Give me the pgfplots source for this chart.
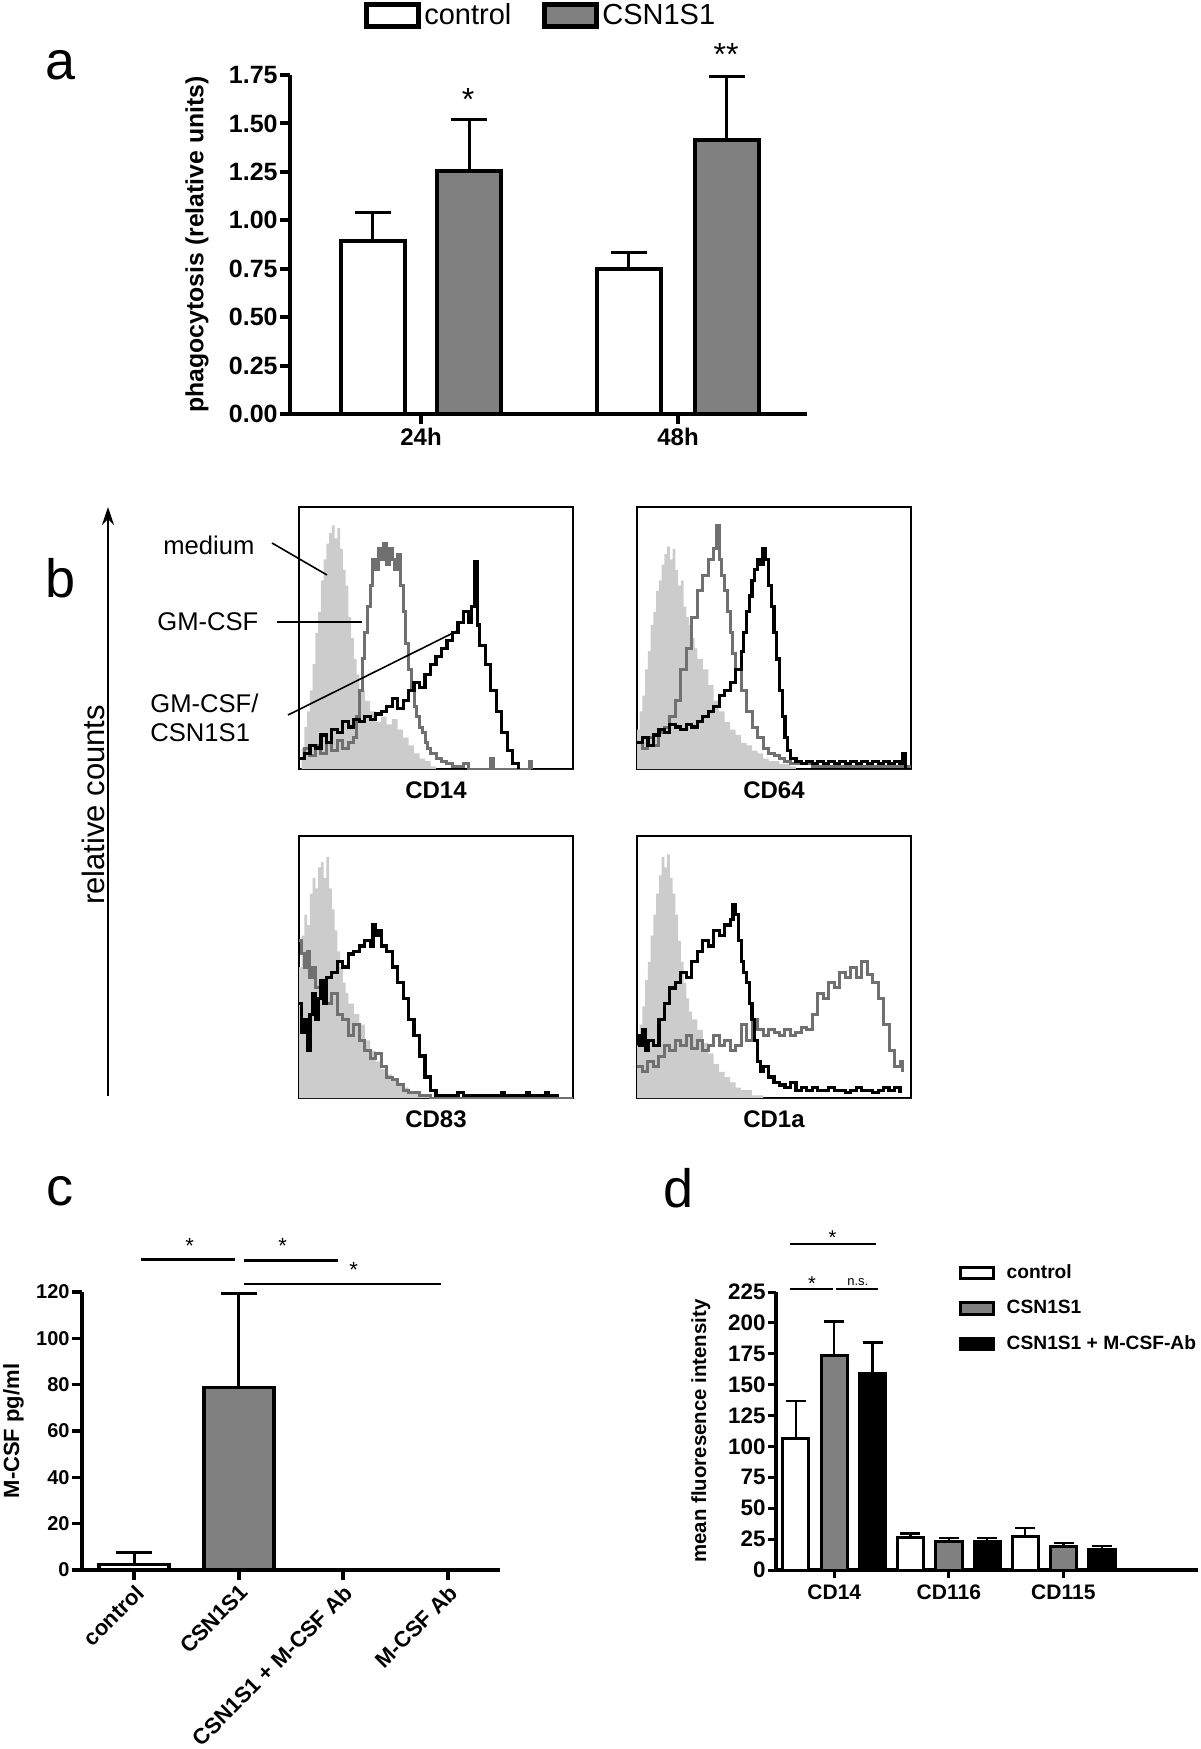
\documentclass[border=0pt]{standalone}
\usepackage{pgfplots}
\pgfplotsset{compat=1.18}
\usetikzlibrary{arrows.meta}
\usepackage{fontspec}
\setmainfont{Liberation Sans}
\definecolor{bargray}{HTML}{808080}
\definecolor{medgray}{HTML}{CCCCCC}
\definecolor{histgray}{HTML}{707070}
\newcommand{\fs}[1]{\fontsize{#1}{#1}\selectfont}
\pgfplotsset{
  histo/.style={scale only axis, width=137pt, height=131pt, anchor=south west,
    xmin=0, xmax=100, ymin=0, ymax=100, xtick=\empty, ytick=\empty,
    axis line style={line width=1pt},
    every axis x label/.style={at={(axis description cs:0.5,0)}, anchor=north, inner sep=0pt, yshift=-6pt, font=\bfseries\fs{12}}},
  medium/.style={fill=medgray, draw=none, const plot},
  gmcsf/.style={histgray, line width=1.5pt, const plot, mark=none},
  both/.style={black, line width=1.6pt, const plot, mark=none},
  errs/.style 2 args={error bars/.cd, y dir=plus, y explicit,
    error bar style={line width=#1, black},
    error mark options={line width=#1, black, mark size=#2, rotate=90}},
}
\begin{document}
\begin{tikzpicture}
\path[use as bounding box] (0,0) rectangle (600pt,-874.5pt);

% ---------------- panel a ----------------
\begin{axis}[
  at={(145pt,-207pt)}, anchor=south west,
  scale only axis, width=258.5pt, height=169.5pt,
  xmin=0, xmax=517, ymin=0, ymax=1.75, clip=false,
  axis x line*=bottom, axis y line*=left,
  axis line style={line width=2.2pt,-},
  ytick={0,0.25,0.5,0.75,1,1.25,1.5,1.75},
  xtick={131,388}, xticklabels={24h,48h},
  tick align=outside, major tick length=5pt,
  tick style={line width=2pt, black},
  /pgf/number format/assume math mode=true,
  yticklabel style={font=\bfseries\fs{12.5}, inner sep=1pt,
    /pgf/number format/.cd, fixed, fixed zerofill, precision=2},
  xticklabel style={font=\bfseries\fs{12}, inner sep=2pt},
  ylabel={phagocytosis (relative units)},
  every axis y label/.style={at={(axis description cs:-0.18,0.5)}, rotate=90, anchor=center, font=\bfseries\fs{12.4}},
  legend style={at={(0.486,1.175)}, anchor=center, draw=none, fill=none,
    legend columns=2, font=\fs{14.5}, inner sep=0pt,
    /tikz/every even column/.append style={column sep=14pt},
    nodes={inner sep=1.5pt}},
  legend image code/.code={\draw[#1, line width=2.5pt] (0pt,-5.5pt) rectangle (26pt,5.5pt);},
]
\addplot[ybar, bar shift=0pt, bar width=64, fill=white, draw=black, line width=2pt, errs={1.5pt}{9pt}]
  coordinates {(82.7,0.893) +- (0,0.147) (338.6,0.748) +- (0,0.087)};
\addlegendentry{control}
\addplot[ybar, bar shift=0pt, bar width=64, fill=bargray, draw=black, line width=2pt, errs={1.5pt}{9pt}]
  coordinates {(179.4,1.252) +- (0,0.27) (436.9,1.416) +- (0,0.325)};
\addlegendentry{CSN1S1}
\node[font=\fs{16}] at (axis cs:178,1.625) {*};
\node[font=\fs{16}] at (axis cs:436,1.855) {**};
\end{axis}

% ---------------- panel b ----------------
\begin{axis}[histo, at={(149.5pt,-384.5pt)}, xlabel={CD14}]
\addplot[medium] coordinates {(0,0)(1,8)(2,16)(3,22)(4,30)(5,40)(6,52)(7,60)(8,72)(9,80)(10,86)(11,90)(12,93)(13,88)(14,92)(15,84)(16,76)(17,70)(18,58)(19,50)(20,42)(21,36)(22,30)(24,26)(26,22)(28,18)(30,20)(32,17)(34,19)(36,15)(38,12)(40,9)(42,6)(44,4)(46,3)(48,1)(50,0)(100,0)} \closedcycle;
\addplot[gmcsf] coordinates {(0,4)(2,8)(4,5)(6,9)(8,6)(10,10)(12,7)(14,11)(16,8)(18,10)(20,12)(21,20)(22,30)(23,42)(24,52)(25,62)(26,70)(27,80)(28,76)(29,84)(30,80)(31,86)(32,78)(33,84)(34,80)(35,76)(36,82)(37,70)(38,60)(39,48)(40,38)(41,30)(42,24)(43,20)(44,16)(45,14)(46,10)(47,8)(48,6)(50,4)(52,3)(54,2)(56,1)(60,2)(62,0)(68,0)(70,4)(71,0)(83,0)(84,3)(85,0)};
\addplot[both] coordinates {(0,4)(2,6)(4,9)(6,8)(8,13)(10,10)(12,15)(14,14)(16,18)(18,16)(20,19)(22,18)(24,20)(26,19)(28,21)(30,22)(32,24)(34,27)(36,23)(38,26)(40,30)(42,33)(44,31)(46,36)(48,40)(50,43)(52,46)(54,49)(56,52)(58,56)(60,60)(62,56)(63,62)(64,79)(65,55)(66,47)(68,40)(70,30)(72,22)(74,14)(76,7)(78,2)(80,0)};
\end{axis}

\begin{axis}[histo, at={(318.5pt,-384.5pt)}, xlabel={CD64}]
\addplot[medium] coordinates {(0,15)(1,22)(2,28)(3,38)(4,45)(5,55)(6,60)(7,68)(8,72)(9,78)(10,82)(11,85)(12,80)(13,84)(14,76)(15,70)(16,72)(17,62)(18,58)(19,55)(20,50)(21,46)(22,42)(24,38)(26,32)(28,26)(30,22)(32,18)(34,15)(36,13)(38,10)(40,9)(42,7)(44,6)(46,4)(48,3)(52,2)(56,1)(58,0)(100,0)} \closedcycle;
\addplot[gmcsf] coordinates {(0,10)(2,8)(4,12)(6,9)(8,14)(10,16)(12,20)(14,26)(16,38)(18,46)(20,58)(22,68)(24,74)(26,80)(28,84)(29,93)(30,80)(31,74)(32,68)(33,60)(34,52)(35,44)(36,38)(38,30)(40,22)(42,16)(44,12)(46,8)(48,6)(50,5)(52,4)(54,3)(56,2)(60,2)(64,1)(70,1)(80,1)(90,1)(100,1)};
\addplot[both] coordinates {(0,10)(2,12)(4,9)(6,13)(8,15)(10,14)(12,17)(14,16)(16,15)(18,17)(20,16)(22,18)(24,20)(26,22)(28,24)(30,28)(32,30)(34,33)(36,38)(38,45)(39,52)(40,60)(41,66)(42,72)(43,76)(44,80)(45,78)(46,84)(47,80)(48,70)(49,62)(50,52)(51,42)(52,30)(53,20)(54,12)(55,7)(56,4)(58,3)(60,2)(62,3)(64,2)(66,3)(68,2)(70,3)(72,2)(74,3)(76,2)(78,3)(80,2)(82,3)(84,2)(86,3)(88,2)(90,3)(92,2)(94,3)(96,2)(97,6)(98,0)};
\end{axis}

\begin{axis}[histo, at={(149.5pt,-549pt)}, xlabel={CD83}]
\addplot[medium] coordinates {(0,50)(1,62)(2,70)(3,66)(4,78)(5,84)(6,80)(7,88)(8,90)(9,84)(10,92)(11,80)(12,72)(13,64)(14,56)(15,50)(16,44)(17,40)(18,36)(20,32)(22,28)(24,22)(26,18)(28,14)(30,11)(32,9)(34,7)(36,5)(38,4)(40,2)(44,1)(48,0)(100,0)} \closedcycle;
\addplot[gmcsf] coordinates {(0,60)(1,55)(2,50)(3,56)(4,46)(5,50)(6,42)(8,40)(10,36)(12,40)(14,32)(16,30)(18,24)(20,28)(22,22)(24,18)(26,15)(28,17)(30,12)(32,8)(34,7)(36,5)(38,3)(40,2)(44,1)(48,0)(100,0)};
\addplot[both] coordinates {(0,36)(1,25)(2,30)(3,18)(4,32)(5,40)(6,30)(7,38)(8,45)(9,36)(10,46)(12,48)(14,52)(16,50)(18,55)(20,56)(22,58)(24,60)(26,58)(27,66)(28,62)(29,64)(30,58)(32,56)(34,50)(36,44)(38,38)(40,30)(42,24)(44,16)(46,8)(48,3)(50,1)(54,1)(58,2)(60,1)(70,1)(74,2)(75,1)(82,1)(83,2)(84,1)(89,1)(90,2)(91,1)(95,1)};
\end{axis}

\begin{axis}[histo, at={(318.5pt,-549pt)}, xlabel={CD1a}]
\addplot[medium] coordinates {(0,20)(1,28)(2,35)(3,45)(4,52)(5,62)(6,70)(7,78)(8,85)(9,92)(10,88)(11,93)(12,84)(13,78)(14,70)(15,60)(16,52)(17,44)(18,38)(19,33)(20,30)(22,26)(24,21)(26,17)(28,13)(30,10)(32,8)(34,6)(36,4)(38,3)(42,1)(46,0)(100,0)} \closedcycle;
\addplot[gmcsf] coordinates {(0,12)(2,10)(4,14)(6,12)(8,16)(10,20)(12,18)(14,22)(16,20)(18,24)(20,19)(22,22)(24,18)(26,20)(28,24)(30,20)(32,22)(34,18)(36,20)(38,28)(40,22)(42,30)(44,26)(46,24)(48,26)(50,25)(52,24)(54,26)(56,24)(58,25)(60,27)(62,26)(64,32)(66,40)(68,38)(70,44)(72,42)(74,48)(76,46)(78,50)(80,46)(82,52)(84,47)(86,44)(88,38)(90,28)(92,18)(94,12)(96,14)(97,10)};
\addplot[both] coordinates {(0,24)(1,20)(2,26)(3,18)(4,22)(6,20)(8,30)(10,36)(12,42)(14,44)(16,48)(18,46)(20,52)(22,56)(24,60)(26,58)(28,64)(30,62)(32,66)(34,68)(35,74)(36,70)(37,60)(38,52)(39,48)(40,44)(41,36)(42,30)(43,22)(44,14)(45,10)(46,12)(48,8)(50,6)(52,5)(54,4)(56,6)(58,3)(60,4)(62,3)(64,4)(66,3)(68,3)(70,4)(72,3)(74,3)(76,2)(78,3)(80,4)(82,3)(84,3)(86,2)(88,3)(90,4)(92,3)(94,4)(96,2)};
\end{axis}

% ---------------- panel c ----------------
\begin{axis}[
  at={(41pt,-785pt)}, anchor=south west,
  scale only axis, width=209pt, height=139pt,
  xmin=0.5, xmax=4.5, ymin=0, ymax=120, clip=false,
  axis x line*=bottom, axis y line*=left,
  axis line style={line width=2pt,-},
  ytick={0,20,40,60,80,100,120}, xtick={1,2,3,4},
  xticklabels={control, CSN1S1, CSN1S1 + M-CSF Ab, M-CSF Ab},
  tick align=outside, major tick length=5pt,
  tick style={line width=1.8pt, black},
  /pgf/number format/assume math mode=true,
  yticklabel style={font=\bfseries\fs{10}, inner sep=1pt},
  xticklabel style={font=\bfseries\fs{11}, rotate=45, anchor=north east, inner sep=1pt},
  ylabel={M-CSF pg/ml},
  every axis y label/.style={at={(axis description cs:-0.164,0.5)}, rotate=90, anchor=center, font=\bfseries\fs{11}},
]
\addplot[ybar, bar shift=0pt, bar width=0.67, fill=white, draw=black, line width=1.8pt, errs={1.3pt}{9pt}]
  coordinates {(1,2.4) +- (0,5.2)};
\addplot[ybar, bar shift=0pt, bar width=0.67, fill=bargray, draw=black, line width=1.8pt, errs={1.3pt}{9pt}]
  coordinates {(2,78.7) +- (0,40.6)};
\addplot[ybar, bar shift=0pt, bar width=0.67, fill=white, draw=black, line width=1.8pt]
  coordinates {(3,0) (4,0)};
\draw[line width=1.3pt] (axis cs:1.066,134) -- (axis cs:1.963,134);
\draw[line width=1.3pt] (axis cs:2.055,133.5) -- (axis cs:2.952,133.5);
\draw[line width=1.3pt] (axis cs:2.055,123.5) -- (axis cs:3.94,123.5);
\node[font=\fs{11}] at (axis cs:1.53,140) {*};
\node[font=\fs{11}] at (axis cs:2.42,140) {*};
\node[font=\fs{11}] at (axis cs:3.1,129.5) {*};
\end{axis}

% ---------------- panel d ----------------
\begin{axis}[
  at={(388pt,-785pt)}, anchor=south west,
  scale only axis, width=211pt, height=139pt,
  xmin=0, xmax=1172, ymin=0, ymax=225, clip=false,
  axis x line*=bottom, axis y line*=left,
  axis line style={line width=1.6pt,-},
  ytick={0,25,50,75,100,125,150,175,200,225},
  xtick={162,480,798}, xticklabels={CD14,CD116,CD115},
  tick align=outside, major tick length=4pt,
  tick style={line width=1.5pt, black},
  /pgf/number format/assume math mode=true,
  yticklabel style={font=\bfseries\fs{11.2}, inner sep=1pt},
  xticklabel style={font=\bfseries\fs{10.5}, inner sep=3pt},
  ylabel={mean fluoresence intensity},
  every axis y label/.style={at={(axis description cs:-0.178,0.5)}, rotate=90, anchor=center, font=\bfseries\fs{10.2}},
  legend style={at={(0.432,1.108)}, anchor=north west, draw=none, fill=none,
    font=\bfseries\fs{9.6}, row sep=7.5pt, inner sep=0pt,
    nodes={inner sep=1pt},
    /tikz/every odd column/.append style={column sep=5pt}},
  legend cell align=left,
  legend image code/.code={\draw[#1, line width=1.5pt] (0pt,-2.9pt) rectangle (16.5pt,2.9pt);},
]
\addplot[ybar, bar shift=0pt, bar width=73, fill=white, draw=black, line width=1.5pt, errs={1.2pt}{5pt}]
  coordinates {(55,106.7) +- (0,30) (373.5,26.3) +- (0,3.3) (692,27.4) +- (0,6.6)};
\addlegendentry{control}
\addplot[ybar, bar shift=0pt, bar width=73, fill=bargray, draw=black, line width=1.5pt, errs={1.2pt}{5pt}]
  coordinates {(161.5,173.4) +- (0,27.6) (480.5,22.8) +- (0,3.2) (798.5,18.8) +- (0,3.2)};
\addlegendentry{CSN1S1}
\addplot[ybar, bar shift=0pt, bar width=73, fill=black, draw=black, line width=1.5pt, errs={1.2pt}{5pt}]
  coordinates {(268.5,159) +- (0,25) (586.5,22.8) +- (0,3.2) (905,16.7) +- (0,2.7)};
\addlegendentry{CSN1S1 + M-CSF-Ab}
\draw[line width=1.1pt] (axis cs:40,264) -- (axis cs:277,264);
\draw[line width=1.1pt] (axis cs:40,227.7) -- (axis cs:157,227.7);
\draw[line width=1.1pt] (axis cs:167,227.7) -- (axis cs:284,227.7);
\node[font=\fs{10}] at (axis cs:157,269) {*};
\node[font=\fs{10}] at (axis cs:100,232) {*};
\node[font=\fs{6.5}] at (axis cs:227,233) {n.s.};
\end{axis}

% ---------------- annotations ----------------
\begin{scope}[x=0.5pt, y=-0.5pt]
\node[font=\fs{27}] at (61,65) {a};
\node[font=\fs{27}] at (61,578) {b};
\node[font=\fs{27}] at (60,1191) {c};
\node[font=\fs{27}] at (679,1188) {d};
\draw[line width=0.8pt, -{Stealth[length=9pt,width=6pt]}] (108,1096) -- (108,507);
\node[rotate=90, font=\fs{15.5}] at (93,805) {relative counts};
\node[anchor=west, font=\fs{12.8}, inner sep=0pt] at (163,545) {medium};
\node[anchor=west, font=\fs{12.8}, inner sep=0pt] at (157,622) {GM-CSF};
\node[anchor=west, font=\fs{12.8}, inner sep=0pt, align=left] at (150,718) {GM-CSF/\\[2pt]CSN1S1};
\draw[line width=0.8pt] (272,543) -- (327,575);
\draw[line width=0.8pt] (277,622) -- (362,622);
\draw[line width=0.8pt] (288,715) -- (457,631);
\end{scope}
\end{tikzpicture}
\end{document}
